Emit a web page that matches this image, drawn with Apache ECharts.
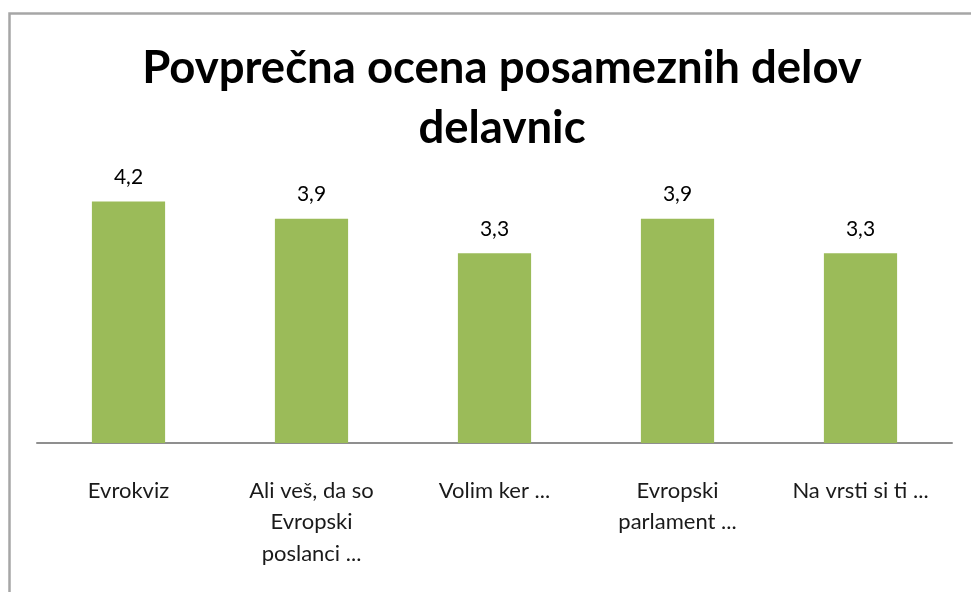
<!DOCTYPE html>
<html>
<head>
<meta charset="utf-8">
<script src="https://cdn.jsdelivr.net/npm/echarts@6/dist/echarts.min.js"></script>
<style>
  html, body { margin: 0; padding: 0; background: #fff; }
  #chart { width: 971px; height: 592px; }
</style>
</head>
<body>
<div id="chart"></div>
<script>
const categories = [
    'Evrokviz',
    'Ali veš, da so\nEvropski\nposlanci ...',
    'Volim ker ...',
    'Evropski\nparlament ...',
    'Na vrsti si ti ...'
];
const scores = [4.2, 3.9, 3.3, 3.9, 3.3];

const chart = echarts.init(document.getElementById('chart'));

const option = {
    backgroundColor: '#fff',
    animation: false,
    title: {
        text: 'Povprečna ocena posameznih delov\ndelavnic',
        left: 497,
        textAlign: 'center',
        top: 33,
        textStyle: {
            fontFamily: 'Lato',
            fontWeight: 'bold',
            fontSize: 45.5,
            lineHeight: 60,
            color: '#000'
        }
    },
    graphic: [
        {
            type: 'rect',
            shape: { x: 9.5, y: 13.5, width: 1000, height: 700 },
            style: { fill: 'none', stroke: '#a6a6a6', lineWidth: 2.5 },
            silent: true
        }
    ],
    grid: {
        left: 37,
        width: 915,
        top: 155.5,
        height: 287.5
    },
    xAxis: {
        type: 'category',
        data: categories,
        axisLine: { lineStyle: { color: '#8f8f8f', width: 2 } },
        axisTick: { show: false },
        axisLabel: {
            interval: 0,
            margin: 32,
            fontFamily: 'Lato',
            fontSize: 22,
            lineHeight: 31.5,
            color: '#1a1a1a',
            verticalAlign: 'top'
        }
    },
    yAxis: {
        type: 'value',
        min: 0,
        max: 5,
        show: false,
        splitLine: { show: false }
    },
    series: [
        {
            type: 'bar',
            data: scores,
            barWidth: '40%',
            itemStyle: { color: '#9bbb59' },
            label: {
                show: true,
                position: 'top',
                distance: 14,
                fontFamily: 'Lato',
                fontSize: 21,
                color: '#000',
                formatter: p => p.value.toFixed(1).replace('.', ',')
            }
        }
    ]
};

chart.setOption(option);
</script>
</body>
</html>
